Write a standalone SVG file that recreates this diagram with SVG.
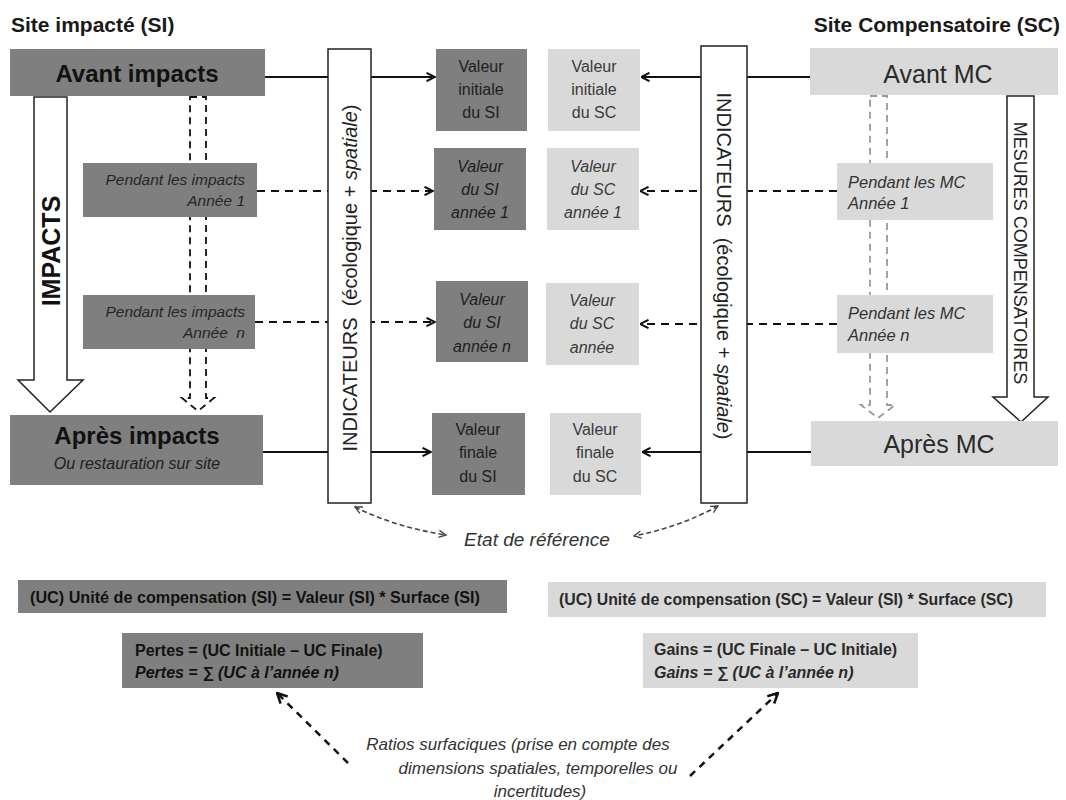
<svg xmlns="http://www.w3.org/2000/svg" width="1066" height="800" viewBox="0 0 1066 800">
<defs>
<style>
text{font-family:"Liberation Sans",Arial,sans-serif;}
.dark{fill:#7f7f7f;}
.light{fill:#d9d9d9;}
.title{font-size:21px;font-weight:bold;fill:#1a1a1a;}
.big{font-size:24px;fill:#111;}
.val{font-size:16px;fill:#1e1e1e;text-anchor:middle;}
.valL{font-size:16px;fill:#3a3a3a;text-anchor:middle;}
.it{font-style:italic;}
.pend{font-size:15.5px;font-style:italic;fill:#262626;}
.pendL{font-size:16.5px;font-style:italic;fill:#333;}
.formula{font-size:16px;font-weight:bold;fill:#111;}
.formulaL{font-size:16px;font-weight:bold;fill:#2a2a2a;}
.solid{stroke:#111;stroke-width:2;fill:none;}
.dash{stroke:#111;stroke-width:2;fill:none;stroke-dasharray:8 6;}
.col{fill:#fff;stroke:#222;stroke-width:1.5;}
.blk{fill:#fff;stroke:#222;stroke-width:1.5;}
.ratio{font-size:17px;font-style:italic;fill:#333;text-anchor:middle;}
</style>
<marker id="ah" viewBox="0 0 10 10" refX="9.5" refY="5" markerWidth="10" markerHeight="10" markerUnits="userSpaceOnUse" orient="auto">
<path d="M1,0.8 L9.5,5 L1,9.2" fill="none" stroke="#111" stroke-width="2"/>
</marker>
<marker id="ahs" viewBox="0 0 10 10" refX="9" refY="5" markerWidth="9" markerHeight="9" markerUnits="userSpaceOnUse" orient="auto-start-reverse">
<path d="M1,1 L9,5 L1,9" fill="none" stroke="#444" stroke-width="1.5"/>
</marker>
<marker id="ahb" viewBox="0 0 12 12" refX="11" refY="6" markerWidth="12" markerHeight="12" markerUnits="userSpaceOnUse" orient="auto">
<path d="M1,1 L11,6 L1,11" fill="none" stroke="#111" stroke-width="2.5"/>
</marker>
</defs>
<rect width="1066" height="800" fill="#fff"/>

<g id="titles">
<text class="title" x="11" y="32">Site impacté (SI)</text>
<text class="title" x="1060" y="32" text-anchor="end">Site Compensatoire (SC)</text>
</g>

<g id="connectors">
<line class="solid" x1="265" y1="77" x2="435" y2="77" marker-end="url(#ah)"/>
<line class="dash" x1="257" y1="191" x2="433" y2="191" marker-end="url(#ah)"/>
<line class="dash" x1="255" y1="322" x2="435" y2="322" marker-end="url(#ah)"/>
<line class="solid" x1="263" y1="452" x2="431" y2="452" marker-end="url(#ah)"/>
<line class="solid" x1="810" y1="77" x2="641" y2="77" marker-end="url(#ah)"/>
<line class="dash" x1="837" y1="191" x2="640" y2="191" marker-end="url(#ah)"/>
<line class="dash" x1="837" y1="324" x2="640" y2="324" marker-end="url(#ah)"/>
<line class="solid" x1="811" y1="452" x2="642" y2="452" marker-end="url(#ah)"/>
<path d="M190,97 L206,97 L206,398 L214,398 L198,411 L182,398 L190,398 Z" fill="none" stroke="#111" stroke-width="1.8" stroke-dasharray="7 5"/>
<path d="M870,96 L887,96 L887,405 L895,405 L878,418 L861,405 L870,405 Z" fill="none" stroke="#9a9a9a" stroke-width="1.8" stroke-dasharray="7 5"/>
<path d="M355,507 Q395,527 446,535" fill="none" stroke="#444" stroke-width="1.6" stroke-dasharray="5 3" marker-start="url(#ahs)" marker-end="url(#ahs)"/>
<path d="M718,506 Q680,527 634,536" fill="none" stroke="#444" stroke-width="1.6" stroke-dasharray="5 3" marker-start="url(#ahs)" marker-end="url(#ahs)"/>
<line x1="348" y1="763" x2="277" y2="693" stroke="#111" stroke-width="2.5" stroke-dasharray="7 6" marker-end="url(#ahb)"/>
<line x1="690" y1="776" x2="778" y2="693" stroke="#111" stroke-width="2.5" stroke-dasharray="7 6" marker-end="url(#ahb)"/>
</g>

<g id="impacts-arrow">
<path class="blk" d="M34,97 L67,97 L67,380 L83,380 L50,412 L18,380 L34,380 Z"/>
<text transform="translate(51,251) rotate(-90)" text-anchor="middle" dominant-baseline="central" font-size="25" font-weight="bold" fill="#111">IMPACTS</text>
</g>

<g id="mesures-arrow">
<path class="blk" d="M1007,96 L1034,96 L1034,397 L1048,397 L1021,422 L993,397 L1007,397 Z"/>
<text transform="translate(1020,253) rotate(90)" text-anchor="middle" dominant-baseline="central" font-size="18" fill="#222">MESURES COMPENSATOIRES</text>
</g>

<g id="avant-impacts">
<rect class="dark" x="10" y="49" width="255" height="47"/>
<text class="big" x="137" y="82" text-anchor="middle" font-weight="bold">Avant impacts</text>
</g>

<g id="pendant-impacts-1">
<rect class="dark" x="83" y="163" width="174" height="54"/>
<text class="pend" x="245" y="185" text-anchor="end">Pendant les impacts</text>
<text class="pend" x="245" y="206" text-anchor="end">Année 1</text>
</g>

<g id="pendant-impacts-n">
<rect class="dark" x="83" y="295" width="172" height="54"/>
<text class="pend" x="245" y="317" text-anchor="end">Pendant les impacts</text>
<text class="pend" x="245" y="338" text-anchor="end" style="white-space:pre">Année  n</text>
</g>

<g id="apres-impacts">
<rect class="dark" x="10" y="415" width="253" height="70"/>
<text class="big" x="137" y="444" text-anchor="middle" font-weight="bold">Après impacts</text>
<text x="137" y="469" text-anchor="middle" font-size="16" font-style="italic" fill="#1e1e1e">Ou restauration sur site</text>
</g>

<g id="indicateurs-si">
<rect class="col" x="328" y="49" width="43" height="454"/>
<text transform="translate(350,278) rotate(-90)" text-anchor="middle" dominant-baseline="central" font-size="20" fill="#222" style="white-space:pre">INDICATEURS  (écologique + <tspan font-style="italic">spatiale</tspan>)</text>
</g>

<g id="indicateurs-sc">
<rect class="col" x="701" y="46" width="46" height="457"/>
<text transform="translate(724,266) rotate(90)" text-anchor="middle" dominant-baseline="central" font-size="20" fill="#222" style="white-space:pre">INDICATEURS  (écologique + <tspan font-style="italic">spatiale</tspan>)</text>
</g>

<g id="valeur-initiale-si">
<rect class="dark" x="436" y="49" width="91" height="82"/>
<text class="val" x="481" y="72">Valeur</text>
<text class="val" x="481" y="95">initiale</text>
<text class="val" x="481" y="118">du SI</text>
</g>
<g id="valeur-si-annee-1">
<rect class="dark" x="434" y="148" width="92" height="82"/>
<text class="val it" x="480" y="172">Valeur</text>
<text class="val it" x="480" y="195">du SI</text>
<text class="val it" x="480" y="218">année 1</text>
</g>
<g id="valeur-si-annee-n">
<rect class="dark" x="436" y="281" width="92" height="81"/>
<text class="val it" x="482" y="305">Valeur</text>
<text class="val it" x="482" y="328">du SI</text>
<text class="val it" x="482" y="352">année n</text>
</g>
<g id="valeur-finale-si">
<rect class="dark" x="432" y="413" width="93" height="82"/>
<text class="val" x="478" y="435">Valeur</text>
<text class="val" x="478" y="458">finale</text>
<text class="val" x="478" y="482">du SI</text>
</g>

<g id="valeur-initiale-sc">
<rect class="light" x="548" y="49" width="92" height="82"/>
<text class="valL" x="594" y="72">Valeur</text>
<text class="valL" x="594" y="95">initiale</text>
<text class="valL" x="594" y="118">du SC</text>
</g>
<g id="valeur-sc-annee-1">
<rect class="light" x="547" y="148" width="92" height="82"/>
<text class="valL it" x="593" y="172">Valeur</text>
<text class="valL it" x="593" y="195">du SC</text>
<text class="valL it" x="593" y="218">année 1</text>
</g>
<g id="valeur-sc-annee">
<rect class="light" x="546" y="283" width="93" height="82"/>
<text class="valL it" x="592" y="306">Valeur</text>
<text class="valL it" x="592" y="329">du SC</text>
<text class="valL it" x="592" y="353">année</text>
</g>
<g id="valeur-finale-sc">
<rect class="light" x="550" y="413" width="91" height="82"/>
<text class="valL" x="595" y="435">Valeur</text>
<text class="valL" x="595" y="458">finale</text>
<text class="valL" x="595" y="482">du SC</text>
</g>

<g id="avant-mc">
<rect class="light" x="810" y="48" width="248" height="47"/>
<text x="938" y="83" text-anchor="middle" font-size="25" fill="#2a2a2a">Avant MC</text>
</g>
<g id="pendant-mc-1">
<rect class="light" x="837" y="163" width="156" height="57"/>
<text class="pendL" x="848" y="188">Pendant les MC</text>
<text class="pendL" x="848" y="209">Année 1</text>
</g>
<g id="pendant-mc-n">
<rect class="light" x="837" y="295" width="156" height="58"/>
<text class="pendL" x="848" y="319">Pendant les MC</text>
<text class="pendL" x="848" y="341">Année n</text>
</g>
<g id="apres-mc">
<rect class="light" x="811" y="421" width="247" height="45"/>
<text x="939" y="453" text-anchor="middle" font-size="25" fill="#2a2a2a">Après MC</text>
</g>

<g id="etat-reference">
<text x="537" y="546" text-anchor="middle" font-size="19" font-style="italic" fill="#333">Etat de référence</text>
</g>

<g id="uc-si">
<rect class="dark" x="18" y="580" width="489" height="33"/>
<text class="formula" x="30" y="603" textLength="450" lengthAdjust="spacingAndGlyphs">(UC) Unité de compensation (SI) = Valeur (SI) * Surface (SI)</text>
</g>
<g id="uc-sc">
<rect class="light" x="548" y="582" width="498" height="35"/>
<text class="formulaL" x="559" y="605" textLength="454" lengthAdjust="spacingAndGlyphs">(UC) Unité de compensation (SC) = Valeur (SI) * Surface (SC)</text>
</g>
<g id="pertes">
<rect class="dark" x="122" y="633" width="301" height="55"/>
<text class="formula" x="135" y="656">Pertes = (UC Initiale – UC Finale)</text>
<text class="formula" x="135" y="678" font-style="italic">Pertes = <tspan text-decoration="underline">∑</tspan> (UC à l’année n)</text>
</g>
<g id="gains">
<rect class="light" x="643" y="633" width="275" height="55"/>
<text class="formulaL" x="654" y="655">Gains = (UC Finale – UC Initiale)</text>
<text class="formulaL" x="654" y="678" font-style="italic">Gains = <tspan text-decoration="underline">∑</tspan> (UC à l’année n)</text>
</g>

<g id="ratios">
<text class="ratio" x="518" y="750">Ratios surfaciques (prise en compte des</text>
<text class="ratio" x="538" y="774">dimensions spatiales, temporelles ou</text>
<text class="ratio" x="540" y="797">incertitudes)</text>
</g>
</svg>
